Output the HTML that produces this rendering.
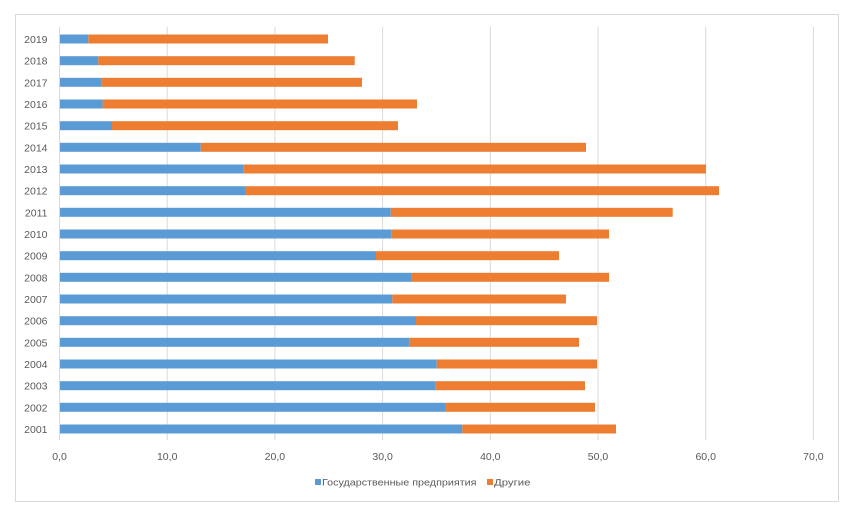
<!DOCTYPE html>
<html>
<head>
<meta charset="utf-8">
<style>
html,body{margin:0;padding:0;background:#fff;}
svg{display:block;}
text{font-family:"Liberation Sans",sans-serif;fill:#595959;}
</style>
</head>
<body>
<svg width="855" height="514" viewBox="0 0 855 514" xmlns="http://www.w3.org/2000/svg">
<rect x="0" y="0" width="855" height="514" fill="#fff"/>
<rect x="15.5" y="14.5" width="823" height="487" fill="#fff" stroke="#d9d9d9" stroke-width="1"/>
<g stroke="#d9d9d9" stroke-width="1">
<line x1="59.5" y1="27" x2="59.5" y2="440"/>
<line x1="167.2" y1="27" x2="167.2" y2="440"/>
<line x1="274.9" y1="27" x2="274.9" y2="440"/>
<line x1="382.6" y1="27" x2="382.6" y2="440"/>
<line x1="490.3" y1="27" x2="490.3" y2="440"/>
<line x1="598" y1="27" x2="598" y2="440"/>
<line x1="705.7" y1="27" x2="705.7" y2="440"/>
<line x1="813.4" y1="27" x2="813.4" y2="440"/>
</g>
<g>
<!-- 2019 -->
<rect x="60" y="34.5" width="28.3" height="9" fill="#5b9bd5"/><rect x="88.3" y="34.5" width="239.7" height="9" fill="#ed7d31"/>
<!-- 2018 -->
<rect x="60" y="56.2" width="38.3" height="9" fill="#5b9bd5"/><rect x="98.3" y="56.2" width="256.4" height="9" fill="#ed7d31"/>
<!-- 2017 -->
<rect x="60" y="77.8" width="41.7" height="9" fill="#5b9bd5"/><rect x="101.7" y="77.8" width="260.3" height="9" fill="#ed7d31"/>
<!-- 2016 -->
<rect x="60" y="99.5" width="42.7" height="9" fill="#5b9bd5"/><rect x="102.7" y="99.5" width="314.3" height="9" fill="#ed7d31"/>
<!-- 2015 -->
<rect x="60" y="121.2" width="52" height="9" fill="#5b9bd5"/><rect x="112" y="121.2" width="286" height="9" fill="#ed7d31"/>
<!-- 2014 -->
<rect x="60" y="142.8" width="140.7" height="9" fill="#5b9bd5"/><rect x="200.7" y="142.8" width="385.3" height="9" fill="#ed7d31"/>
<!-- 2013 -->
<rect x="60" y="164.5" width="183.3" height="9" fill="#5b9bd5"/><rect x="243.3" y="164.5" width="462.7" height="9" fill="#ed7d31"/>
<!-- 2012 -->
<rect x="60" y="186.2" width="185" height="9" fill="#5b9bd5"/><rect x="245" y="186.2" width="474" height="9" fill="#ed7d31"/>
<!-- 2011 -->
<rect x="60" y="207.8" width="330.7" height="9" fill="#5b9bd5"/><rect x="390.7" y="207.8" width="282" height="9" fill="#ed7d31"/>
<!-- 2010 -->
<rect x="60" y="229.5" width="331.7" height="9" fill="#5b9bd5"/><rect x="391.7" y="229.5" width="217.3" height="9" fill="#ed7d31"/>
<!-- 2009 -->
<rect x="60" y="251.2" width="316" height="9" fill="#5b9bd5"/><rect x="376" y="251.2" width="183" height="9" fill="#ed7d31"/>
<!-- 2008 -->
<rect x="60" y="272.8" width="351" height="9" fill="#5b9bd5"/><rect x="411" y="272.8" width="198" height="9" fill="#ed7d31"/>
<!-- 2007 -->
<rect x="60" y="294.5" width="332.3" height="9" fill="#5b9bd5"/><rect x="392.3" y="294.5" width="173.7" height="9" fill="#ed7d31"/>
<!-- 2006 -->
<rect x="60" y="316.2" width="356" height="9" fill="#5b9bd5"/><rect x="416" y="316.2" width="181" height="9" fill="#ed7d31"/>
<!-- 2005 -->
<rect x="60" y="337.8" width="349.3" height="9" fill="#5b9bd5"/><rect x="409.3" y="337.8" width="169.7" height="9" fill="#ed7d31"/>
<!-- 2004 -->
<rect x="60" y="359.5" width="376.7" height="9" fill="#5b9bd5"/><rect x="436.7" y="359.5" width="160.3" height="9" fill="#ed7d31"/>
<!-- 2003 -->
<rect x="60" y="381.2" width="375.3" height="9" fill="#5b9bd5"/><rect x="435.3" y="381.2" width="149.7" height="9" fill="#ed7d31"/>
<!-- 2002 -->
<rect x="60" y="402.8" width="385" height="9" fill="#5b9bd5"/><rect x="445" y="402.8" width="150" height="9" fill="#ed7d31"/>
<!-- 2001 -->
<rect x="60" y="424.5" width="402.3" height="9" fill="#5b9bd5"/><rect x="462.3" y="424.5" width="153.7" height="9" fill="#ed7d31"/>
</g>
<g font-size="10.5" text-anchor="end">
<text x="47.5" y="43">2019</text>
<text x="47.5" y="64.7">2018</text>
<text x="47.5" y="86.3">2017</text>
<text x="47.5" y="108">2016</text>
<text x="47.5" y="129.7">2015</text>
<text x="47.5" y="151.3">2014</text>
<text x="47.5" y="173">2013</text>
<text x="47.5" y="194.7">2012</text>
<text x="47.5" y="216.3">2011</text>
<text x="47.5" y="238">2010</text>
<text x="47.5" y="259.7">2009</text>
<text x="47.5" y="281.3">2008</text>
<text x="47.5" y="303">2007</text>
<text x="47.5" y="324.7">2006</text>
<text x="47.5" y="346.3">2005</text>
<text x="47.5" y="368">2004</text>
<text x="47.5" y="389.7">2003</text>
<text x="47.5" y="411.3">2002</text>
<text x="47.5" y="433">2001</text>
</g>
<g font-size="10.5" text-anchor="middle">
<text x="59.5" y="460">0,0</text>
<text x="167.2" y="460">10,0</text>
<text x="274.9" y="460">20,0</text>
<text x="382.6" y="460">30,0</text>
<text x="490.3" y="460">40,0</text>
<text x="598" y="460">50,0</text>
<text x="705.7" y="460">60,0</text>
<text x="813.4" y="460">70,0</text>
</g>
<rect x="315" y="479" width="6" height="6" fill="#5b9bd5"/>
<text x="322" y="485.5" font-size="9.5" textLength="154.5" lengthAdjust="spacingAndGlyphs">Государственные предприятия</text>
<rect x="487" y="479" width="6" height="6" fill="#ed7d31"/>
<text x="494" y="485.5" font-size="9.5" textLength="36.5" lengthAdjust="spacingAndGlyphs">Другие</text>
</svg>
</body>
</html>
